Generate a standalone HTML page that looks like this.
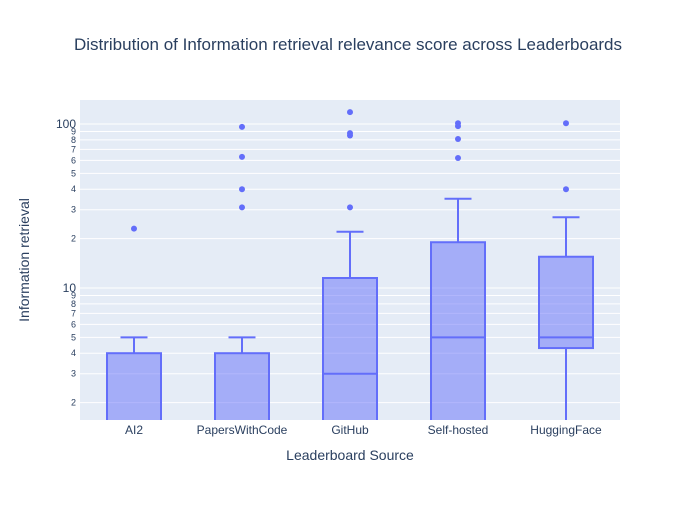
<!DOCTYPE html>
<html><head><meta charset="utf-8"><style>
body{margin:0;background:#fff;font-family:"Liberation Sans",sans-serif;}
</style></head><body>
<svg id="chart" width="700" height="500" xmlns="http://www.w3.org/2000/svg">
<rect width="700" height="500" fill="#fff"/>
<text x="348" y="50" text-anchor="middle" font-size="17" fill="#2a3f5f">Distribution of Information retrieval relevance score across Leaderboards</text>
<rect x="80" y="100" width="540" height="320" fill="#e5ecf6"/>
<g id="grid"></g>
<defs><clipPath id="clip"><rect x="80" y="100" width="540" height="320"/></clipPath></defs>
<g id="marks" clip-path="url(#clip)"></g>
<g id="labels"></g>
<text x="350" y="460" text-anchor="middle" font-size="14" fill="#2a3f5f">Leaderboard Source</text>
<text transform="translate(29,260) rotate(-90)" text-anchor="middle" font-size="14" fill="#2a3f5f">Information retrieval</text>
</svg>
<script>
const categories=["AI2","PapersWithCode","GitHub","Self-hosted","HuggingFace"];
const lowerWhisker=[1,1,1,1,1];
const q1=[1,1,1,1,4.3];
const median=[1,1,3,5,5];
const q3=[4,4,11.5,19,15.5];
const upperWhisker=[5,5,22,35,27];
const outliers=[[23],[31,40,63,96],[31,85,88,118],[62,81,97,101],[40,101]];
const yTicks=[2,3,4,5,6,7,8,9,10,20,30,40,50,60,70,80,90,100];
const yTickLabels=["2","3","4","5","6","7","8","9","10","2","3","4","5","6","7","8","9","100"];
const NS="http://www.w3.org/2000/svg";
const X0=80,W=540,Y0=100,H=320,yMin=Math.log10(1.566),yMax=Math.log10(140);
function y(v){return Y0+H-(Math.log10(v)-yMin)/(yMax-yMin)*H;}
const band=W/categories.length;
function x(i){return X0+band*(i+0.5);}
function mk(t,a,p){const e=document.createElementNS(NS,t);for(const k in a)e.setAttribute(k,a[k]);p.appendChild(e);return e;}
const grid=document.getElementById('grid'),marks=document.getElementById('marks'),labels=document.getElementById('labels');
yTicks.forEach((v,i)=>{
 const l=mk('line',{x1:X0,x2:X0+W,y1:y(v),y2:y(v),stroke:'#fff','stroke-width':1},grid);
 
 
 const big=(v===10||v===100);
 const t=mk('text',{x:76,y:y(v)+(big?4:3),'text-anchor':'end','font-size':big?12:9,fill:'#2a3f5f'},labels);
 t.textContent=yTickLabels[i];
 
 
});
categories.forEach((c,i)=>{
 const cx=x(i),hw=27;
 const t=mk('text',{x:cx,y:434,'text-anchor':'middle','font-size':12,fill:'#2a3f5f'},labels);
 t.textContent=c;
 
 
 const g=mk('g',{},marks);
 
 
 const st={stroke:'#636efa','stroke-width':2,fill:'none'};
 mk('line',Object.assign({x1:cx,x2:cx,y1:y(q3[i]),y2:y(upperWhisker[i])},st),g);
 mk('line',Object.assign({x1:cx,x2:cx,y1:y(q1[i]),y2:y(lowerWhisker[i])},st),g);
 mk('line',Object.assign({x1:cx-hw/2,x2:cx+hw/2,y1:y(upperWhisker[i]),y2:y(upperWhisker[i])},st),g);
 mk('line',Object.assign({x1:cx-hw/2,x2:cx+hw/2,y1:y(lowerWhisker[i]),y2:y(lowerWhisker[i])},st),g);
 mk('rect',{x:cx-hw,y:y(q3[i]),width:2*hw,height:y(q1[i])-y(q3[i]),fill:'rgba(99,110,250,0.5)',stroke:'#636efa','stroke-width':2},g);
 mk('line',Object.assign({x1:cx-hw,x2:cx+hw,y1:y(median[i]),y2:y(median[i])},st),g);
 outliers[i].forEach(v=>{
  const d=mk('circle',{cx:cx,cy:y(v),r:3,fill:'#636efa'},marks);
  
  
 });
});
</script>
</body></html>
